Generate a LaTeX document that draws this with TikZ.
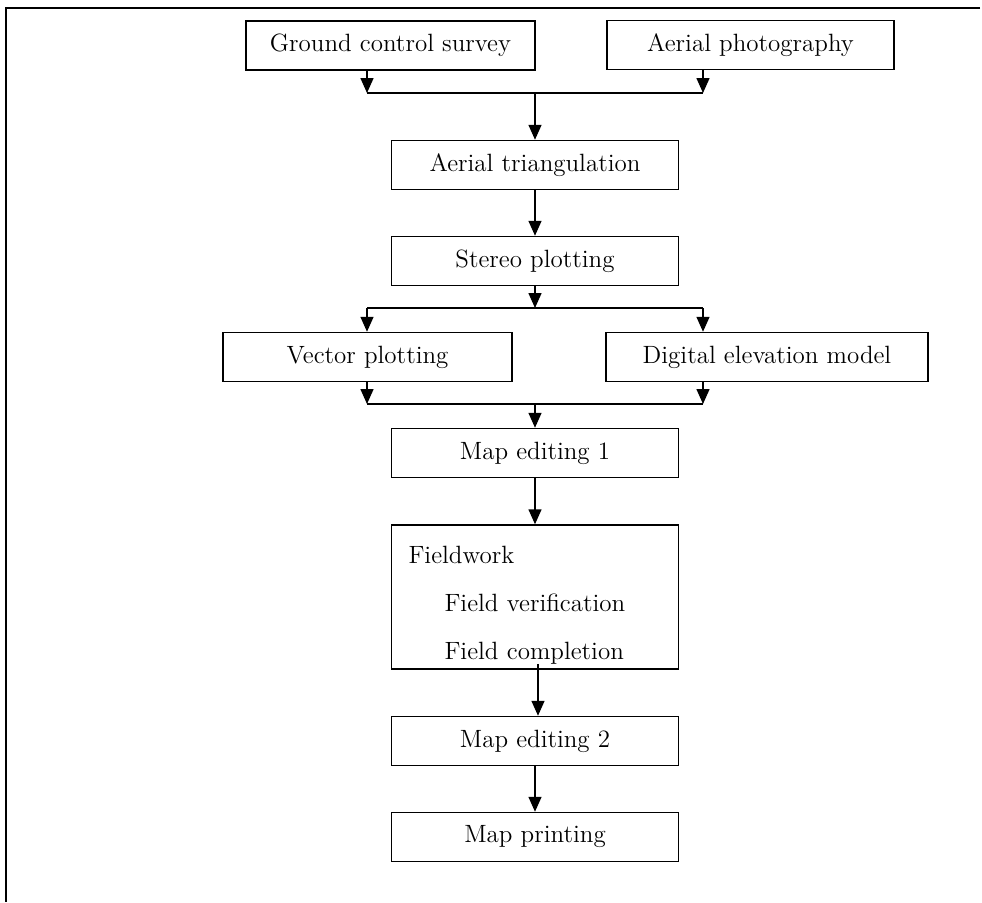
\documentclass[tikz,border=0pt]{standalone}
\usetikzlibrary{arrows.meta}

\begin{document}
\begin{tikzpicture}[x=0.5pt, y=-0.5pt, node distance=48pt, auto,
    box/.style={draw, line width=0.75pt, minimum width=143.5pt, minimum height=24.5pt, inner sep=0pt, font=\fontsize{12.5}{15}\selectfont},
    flow/.style={->, line width=0.75pt, >={Triangle[length=7.5pt, width=6.5pt]}}]
    \useasboundingbox (0,0) rectangle (982,902);
    % frame
    \draw[line width=1pt] (980,8) -- (6,8) -- (6,902);
    % nodes
    \node (gcs) [box, minimum width=144.5pt] at (390.5,45.5) {Ground control survey};
    \node (photo) [box] at (750.5,45) {Aerial photography};
    \node (aerotri) [box] at (535,165) {Aerial triangulation};
    \node (stereo) [box, below of=aerotri] {Stereo plotting};
    \node (vector) [box, minimum width=144.5pt, below of=stereo, xshift=-83.75pt] {Vector plotting};
    \node (dem) [box, minimum width=161pt, below of=stereo, xshift=116pt] {Digital elevation model};
    \node (edit1) [box, below of=stereo, yshift=-48pt] {Map editing 1};
    \node (field) [box, below of=edit1, yshift=-24pt, minimum height=72pt, inner xsep=8.5pt, text width=126.5pt, align=left] {
        \rule{0pt}{17pt}Fieldwork\\[9pt]
        \hspace*{18pt}Field verification\\[9pt]
        \hspace*{18pt}Field completion
    };
    \node (edit2) [box, below of=field, yshift=-24pt] {Map editing 2};
    \node (print) [box, below of=edit2] {Map printing};
    % junctions
    \coordinate (top-l) at (367,93);
    \coordinate (top-m) at (535,93);
    \coordinate (top-r) at (703,93);
    \coordinate (split-l) at (367,308);
    \coordinate (split-m) at (535,308);
    \coordinate (split-r) at (703,308);
    \coordinate (merge-l) at (367,404);
    \coordinate (merge-m) at (535,404);
    \coordinate (merge-r) at (703,404);
    % arrows
    \draw[flow] (gcs.south -| top-l) -- (top-l);
    \draw[flow] (photo.south -| top-r) -- (top-r);
    \draw[line width=0.75pt] (top-l) -- (top-r);
    \draw[flow] (top-m) -- (aerotri);
    \draw[flow] (aerotri) -- (stereo);
    \draw[flow] (stereo) -- (split-m);
    \draw[line width=0.75pt] (split-l) -- (split-r);
    \draw[flow] (split-l) -- (split-l |- vector.north);
    \draw[flow] (split-r) -- (split-r |- dem.north);
    \draw[flow] (vector.south -| merge-l) -- (merge-l);
    \draw[flow] (dem.south -| merge-r) -- (merge-r);
    \draw[line width=0.75pt] (merge-l) -- (merge-r);
    \draw[flow] (merge-m) -- (edit1);
    \draw[flow] (edit1) -- (field);
    \draw[flow] ([xshift=1.5pt, yshift=3pt]field.south) -- ([xshift=1.5pt]edit2.north);
    \draw[flow] (edit2) -- (print);
\end{tikzpicture}
\end{document}
